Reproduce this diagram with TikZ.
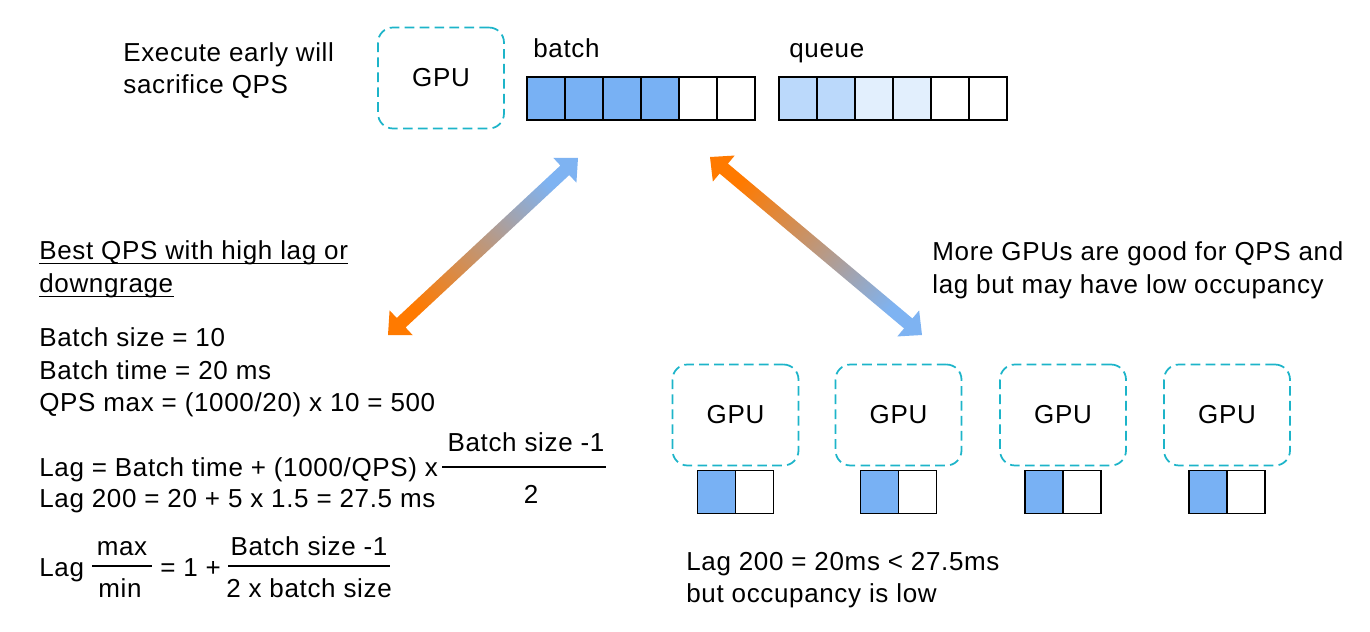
\documentclass[tikz,border=0pt]{standalone}
\usepackage{fontspec}
\setmainfont{Liberation Sans}[LetterSpace=2.5]
\usepackage{tikz}
\usetikzlibrary{positioning,calc}

\definecolor{gpucyan}{HTML}{1DB4C9}
\definecolor{batchblue}{HTML}{78B1F4}
\definecolor{queuemid}{HTML}{BBD9FB}
\definecolor{queuepale}{HTML}{E2EFFD}
\definecolor{arrorange}{HTML}{FF7A00}
\definecolor{arrblue}{HTML}{7EB3F2}

\newcommand\slidefont{\fontsize{14.8}{18}\selectfont}
% thick double headed arrow from #1 to #2, shaded with #3
\newcommand\fatarrow[3]{%
	\shade[#3] (#1)
		-- ($(#1)!0.36cm!(#2)!0.34cm!90:(#2)$)
		-- ($(#1)!0.36cm!(#2)!0.13cm!90:(#2)$)
		-- ($(#2)!0.36cm!(#1)!0.13cm!-90:(#1)$)
		-- ($(#2)!0.36cm!(#1)!0.34cm!-90:(#1)$)
		-- (#2)
		-- ($(#2)!0.36cm!(#1)!0.34cm!90:(#1)$)
		-- ($(#2)!0.36cm!(#1)!0.13cm!90:(#1)$)
		-- ($(#1)!0.36cm!(#2)!0.13cm!-90:(#2)$)
		-- ($(#1)!0.36cm!(#2)!0.34cm!-90:(#2)$)
		-- cycle;}

\tikzset{
	gpubox/.style={draw=gpucyan, line width=1pt, dash pattern=on 5.5pt off 3pt, rounded corners=0.3cm, minimum width=2.52cm, minimum height=2.02cm, font=\slidefont},
	cell/.style={draw=black, line width=0.75pt, minimum width=0.76cm, minimum height=0.86cm, inner sep=0pt, outer sep=0pt},
	txt/.style={inner sep=0pt, anchor=base west, font=\slidefont},
}

\begin{document}
\begin{tikzpicture}[x=0.02cm, y=-0.02cm]
				\useasboundingbox (0,0) rectangle (1370,632);
				% Top row: GPU, batch and queue
				\node[gpubox] (gtop) at (441,78) {GPU};
				\node[txt] (exec1) at (123,61) {Execute early will};
				\node[txt] (exec2) at (123,93) {sacrifice QPS};
				\foreach \i/\c in {1/batchblue,2/batchblue,3/batchblue,4/batchblue,5/white,6/white}
					\node[cell, fill=\c] (b\i) at ({508+38*\i}, 98.5) {};
				\foreach \i/\c in {1/queuemid,2/queuemid,3/queuepale,4/queuepale,5/white,6/white}
					\node[cell, fill=\c] (q\i) at ({760+38*\i}, 98.5) {};
				\node[txt] (batchlbl) at (533,57) {batch};
				\node[txt] (queuelbl) at (789,57) {queue};
				% Arrows
				\coordinate (la1) at (388,335);
				\coordinate (la2) at (578,158);
				\coordinate (ra1) at (710,157);
				\coordinate (ra2) at (922,335);
				\fatarrow{la1}{la2}{top color=arrblue, bottom color=arrorange, shading angle=-47}
				\fatarrow{ra1}{ra2}{top color=arrblue, bottom color=arrorange, shading angle=-130}
				% Left side: one GPU
				\node[txt] (best1) at (39,259) {Best QPS with high lag or};
				\node[txt] (best2) at (39,292) {downgrage};
				\draw[line width=0.8pt] ([yshift=-2.5pt]best1.base west) -- ([yshift=-2.5pt]best1.base east);
				\draw[line width=0.8pt] ([yshift=-2.5pt]best2.base west) -- ([yshift=-2.5pt]best2.base east);
				\node[txt] (bsize) at (39,346) {Batch size = 10};
				\node[txt] (btime) at (39,379) {Batch time = 20 ms};
				\node[txt] (qpsmax) at (39,411) {QPS max = (1000/20) x 10 = 500};
				\node[txt] (lag) at (39,476) {Lag = Batch time + (1000/QPS) x};
				\node[txt, anchor=base] (lagnum) at (526,451) {Batch size -1};
				\node[txt, anchor=base] (lagden) at (531,503) {2};
				\draw[line width=0.8pt] (442,467) -- (606,467);
				\node[txt] (lag200) at (39,507) {Lag 200 = 20 + 5 x 1.5 = 27.5 ms};
				\node[txt] (ratio) at (39,576) {Lag};
				\node[txt, anchor=base] (rmax) at (122,555) {max};
				\node[txt, anchor=base] (rmin) at (120,597) {min};
				\draw[line width=0.8pt] (92,566) -- (152,566);
				\node[txt] (rplus) at (160,576) {= 1 +};
				\node[txt, anchor=base] (rnum) at (309,555) {Batch size -1};
				\node[txt, anchor=base] (rden) at (309,597) {2 x batch size};
				\draw[line width=0.8pt] (228,566) -- (390,566);
				% Right side: many GPUs
				\node[txt] (more1) at (932,260) {More GPUs are good for QPS and};
				\node[txt] (more2) at (932,293) {lag but may have low occupancy};
				\foreach \n/\x in {1/735.5,2/898.5,3/1063,4/1227} {
					\node[gpubox] (g\n) at (\x,415) {GPU};
					\node[cell, fill=batchblue, below left=0.08cm and 0cm of g\n.south] (cl\n) {};
					\node[cell, fill=white, right=0pt of cl\n] (cr\n) {};
				}
				\node[txt] (low1) at (686,570) {Lag 200 = 20ms < 27.5ms};
				\node[txt] (low2) at (686,602) {but occupancy is low};
			\end{tikzpicture}
\end{document}
